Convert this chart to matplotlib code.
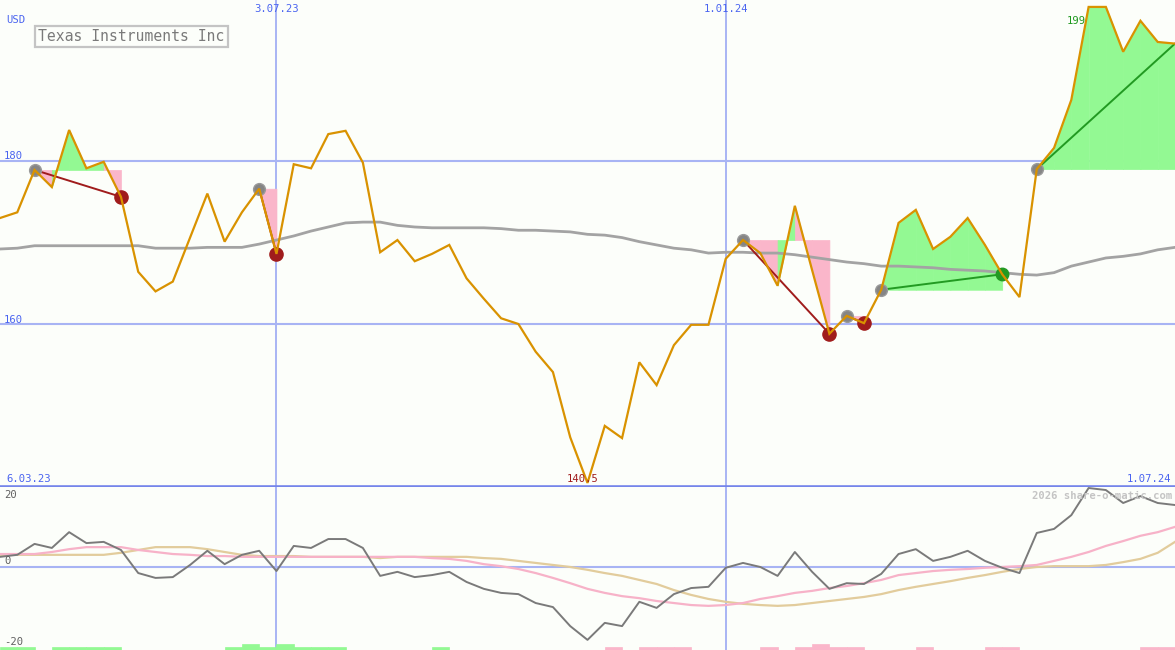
import matplotlib
matplotlib.use('Agg')
import matplotlib.pyplot as plt
import pandas as pd
import datetime as dt

# ---------------- data ----------------
dates = pd.date_range('2023-03-13', periods=69, freq='7D')

price = [173.0, 173.7, 178.9, 176.8, 183.8, 179.1, 179.9, 175.6, 166.4, 164.0,
         165.2, 170.6, 176.0, 170.1, 173.7, 176.6, 168.6, 179.6, 179.1, 183.3,
         183.7, 179.8, 168.8, 170.3, 167.7, 168.6, 169.7, 165.6, 163.1, 160.7,
         160.0, 156.6, 154.1, 146.1, 140.5, 147.5, 146.0, 155.3, 152.5, 157.4,
         159.9, 159.9, 168.0, 170.3, 168.7, 164.7, 174.5, 166.6, 158.8, 161.0,
         160.1, 164.2, 172.4, 174.0, 169.2, 170.7, 173.0, 169.7, 166.1, 163.3,
         179.0, 181.6, 187.5, 198.9, 198.9, 193.4, 197.2, 194.6, 194.4]

ma_long = [169.2, 169.3, 169.6, 169.6, 169.6, 169.6, 169.6, 169.6, 169.6, 169.3,
           169.3, 169.3, 169.4, 169.4, 169.4, 169.8, 170.3, 170.8, 171.4, 171.9,
           172.4, 172.5, 172.5, 172.1, 171.9, 171.8, 171.8, 171.8, 171.8, 171.7,
           171.5, 171.5, 171.4, 171.3, 171.0, 170.9, 170.6, 170.1, 169.7, 169.3,
           169.1, 168.7, 168.8, 168.8, 168.7, 168.7, 168.5, 168.2, 167.9, 167.6,
           167.4, 167.1, 167.1, 167.0, 166.9, 166.7, 166.6, 166.5, 166.3, 166.1,
           166.0, 166.3, 167.1, 167.6, 168.1, 168.3, 168.6, 169.1, 169.4]

osc = [2.5, 3.0, 5.7, 4.7, 8.6, 5.9, 6.2, 4.2, -1.5, -2.7,
       -2.5, 0.5, 4.0, 0.7, 3.0, 4.0, -1.0, 5.2, 4.7, 6.9,
       6.9, 4.7, -2.2, -1.2, -2.5, -2.0, -1.2, -3.7, -5.4, -6.4,
       -6.7, -8.9, -9.9, -14.6, -18.0, -13.8, -14.6, -8.6, -10.1, -6.7,
       -5.2, -4.9, -0.2, 1.0, 0.0, -2.2, 3.7, -1.2, -5.4, -4.0,
       -4.2, -1.7, 3.2, 4.4, 1.5, 2.5, 4.0, 1.5, -0.2, -1.5,
       8.4, 9.4, 12.8, 19.5, 19.0, 15.8, 17.5, 15.8, 15.3]

osc_fast = [3.2, 3.2, 3.2, 3.7, 4.4, 4.9, 4.9, 4.9, 4.2, 3.7,
            3.2, 3.0, 2.7, 2.7, 2.5, 2.5, 2.5, 2.5, 2.5, 2.5,
            2.5, 2.5, 2.5, 2.5, 2.5, 2.2, 2.0, 1.5, 0.7, 0.2,
            -0.5, -1.5, -2.7, -4.0, -5.4, -6.4, -7.2, -7.7, -8.4, -8.9,
            -9.4, -9.6, -9.4, -8.9, -7.9, -7.2, -6.4, -5.9, -5.2, -4.7,
            -4.0, -3.2, -2.0, -1.5, -1.0, -0.7, -0.5, -0.2, 0.0, 0.2,
            0.5, 1.5, 2.5, 3.7, 5.2, 6.4, 7.7, 8.6, 9.9]

osc_slow = [3.0, 3.0, 3.0, 3.0, 3.0, 3.0, 3.0, 3.5, 4.2, 4.9,
            4.9, 4.9, 4.4, 3.7, 3.0, 2.7, 2.7, 2.7, 2.5, 2.5,
            2.5, 2.5, 2.2, 2.5, 2.5, 2.5, 2.5, 2.5, 2.2, 2.0,
            1.5, 1.0, 0.5, 0.0, -0.7, -1.5, -2.2, -3.2, -4.2, -5.7,
            -6.9, -7.9, -8.6, -9.1, -9.4, -9.6, -9.4, -8.9, -8.4, -7.9,
            -7.4, -6.7, -5.7, -4.9, -4.2, -3.5, -2.7, -2.0, -1.2, -0.5,
            0.0, 0.2, 0.2, 0.2, 0.5, 1.2, 2.0, 3.5, 6.2]

# weekly signal bars: +green / -pink, magnitude = strength
signal = [1, 1, 0, 1, 1, 1, 1, 0, 0, 0,
          0, 0, 0, 1, 2, 1, 2, 1, 1, 1,
          0, 0, 0, 0, 0, 1, 0, 0, 0, 0,
          0, 0, 0, 0, 0, -1, 0, -1, -1, -1,
          0, 0, 0, 0, -1, 0, -1, -2, -1, -1,
          0, 0, 0, -1, 0, 0, 0, -1, -1, 0,
          0, 0, 0, 0, 0, 0, -1, -1, 0]

# trades: entry week index, exit week index, outcome
trade_entry = [2, 15, 43, 49, 51, 60]
trade_exit = [7, 16, 48, 50, 58, 68]
trade_result = ['loss', 'loss', 'loss', 'loss', 'win', 'open']

low_label = '140.5'
high_label = '199'
title = 'Texas Instruments Inc'
vlines = [dt.datetime(2023, 7, 3), dt.datetime(2024, 1, 1)]
vline_labels = ['3.07.23', '1.01.24']
start_label, end_label = '6.03.23', '1.07.24'

# ---------------- style ----------------
BG = '#fcfefa'
ORANGE = '#d99200'
GREY_MA = '#a3a3a3'
GRID = '#a8b4f4'
SEP = '#7585ea'
LBL = '#4a64f0'
GREEN_FILL = '#93f993'
PINK_FILL = '#fab6ca'
DARKRED = '#a01c1c'
GREEN_LINE = '#229a22'
MONO = 'DejaVu Sans Mono'

W, H = 1175, 650
fig = plt.figure(figsize=(W / 100, H / 100), dpi=100, facecolor=BG)
ax = fig.add_axes([0, 163 / H, 1, 487 / H])
ax2 = fig.add_axes([0, 0, 1, 163 / H])
for a in (ax, ax2):
    a.set_facecolor(BG)
    for s in a.spines.values():
        s.set_visible(False)
    a.set_xticks([])
    a.set_yticks([])
    a.set_xlim(dt.datetime(2023, 3, 13), dt.datetime(2024, 7, 1))
ax.set_ylim(140.0, 199.75)
ax2.set_ylim(-20.5, 19.75)

# grid lines
for v in vlines:
    ax.axvline(v, color=GRID, lw=1.4, zorder=0.5)
    ax2.axvline(v, color=GRID, lw=1.4, zorder=0.5)
for h in (180, 160):
    ax.axhline(h, color=GRID, lw=1.5, zorder=0.5)
ax2.axhline(0, color=GRID, lw=1.5, zorder=0.5)

# trade fills, lines, dots
for e, x, r in zip(trade_entry, trade_exit, trade_result):
    L = price[e]
    for j in range(e, x):
        col = GREEN_FILL if price[j + 1] >= L else PINK_FILL
        ax.fill_between(dates[j:j + 2], price[j:j + 2], L, facecolor=col,
                        edgecolor=col, lw=0.5, zorder=1)
    lc = DARKRED if r == 'loss' else GREEN_LINE
    ax.plot([dates[e], dates[x]], [price[e], price[x]], color=lc, lw=1.4,
            zorder=3)
for e in trade_entry:
    ax.plot(dates[e], price[e], 'o', ms=8.5, color='#858585', mec='#9a9a9a',
            zorder=4)
for x, r in zip(trade_exit, trade_result):
    if r == 'loss':
        ax.plot(dates[x], price[x], 'o', ms=9.5, color=DARKRED, zorder=4)
    elif r == 'win':
        ax.plot(dates[x], price[x], 'o', ms=9, color=GREEN_LINE, zorder=4)

ax.plot(dates, ma_long, color=GREY_MA, lw=2, zorder=2)
ax.plot(dates, price, color=ORANGE, lw=1.6, zorder=5, solid_joinstyle='miter')

# separator line
ax.axhline(140.0, color=SEP, lw=2.6, zorder=6, clip_on=False)

# lower panel
bar_w = pd.Timedelta(days=7)
for d, s in zip(dates, signal):
    if s != 0:
        c = GREEN_FILL if s > 0 else PINK_FILL
        ax2.bar(d, abs(s) * 0.75, width=bar_w, bottom=-20.5, align='edge',
                color=c, edgecolor=c, lw=0.5, zorder=1)
ax2.plot(dates, osc_slow, color='#e2cc9c', lw=1.6, zorder=2)
ax2.plot(dates, osc_fast, color='#f7b2c8', lw=1.6, zorder=3)
ax2.plot(dates, osc, color='#7a7a7a', lw=1.4, zorder=4)


# ---------------- text ----------------
def fx(px):
    return px / W


def fy(py):
    return 1 - py / H


fs = 7.6
fig.text(fx(6), fy(20), 'USD', color=LBL, fontsize=fs, family=MONO, va='center')
fig.text(fx(4), fy(156), '180', color=LBL, fontsize=fs, family=MONO, va='center')
fig.text(fx(4), fy(320), '160', color=LBL, fontsize=fs, family=MONO, va='center')
for v, t in zip(vlines, vline_labels):
    ax.annotate(t, xy=(v, 1), xycoords=('data', 'axes fraction'),
                xytext=(0, -9), textcoords='offset pixels', ha='center',
                va='center', color=LBL, fontsize=fs, family=MONO)
fig.text(fx(6), fy(479), start_label, color=LBL, fontsize=fs, family=MONO,
         va='center')
fig.text(fx(1171), fy(479), end_label, color=LBL, fontsize=fs, family=MONO,
         va='center', ha='right')

imin = price.index(min(price))
ax.annotate(low_label, xy=(dates[imin], 140.0), xytext=(-5, 8),
            textcoords='offset pixels', ha='center', va='center',
            color='#a01c1c', fontsize=fs, family=MONO, zorder=7)
imax = price.index(max(price))
ax.annotate(high_label, xy=(dates[imax], max(price)), xytext=(-3, -14),
            textcoords='offset pixels', ha='right', va='center',
            color='#1f9a1f', fontsize=fs, family=MONO, zorder=7)

fig.text(fx(38), fy(36.5), title, color='#7a7a7a', fontsize=10.6, family=MONO,
         va='center', ha='left',
         bbox=dict(boxstyle='square,pad=0.22', fc=BG, ec='#c4c4c4', lw=1.6))

fig.text(fx(4), fy(495), '20', color='#606060', fontsize=fs, family=MONO,
         va='center')
fig.text(fx(4), fy(561), '0', color='#606060', fontsize=fs, family=MONO,
         va='center')
fig.text(fx(4), fy(642), '-20', color='#606060', fontsize=fs, family=MONO,
         va='center')
fig.text(fx(1172), fy(496), '2026 share-o-matic.com', color='#c4c4c4',
         fontsize=fs, family=MONO, fontweight='bold', va='center', ha='right')

fig.savefig('out.png', dpi=100, facecolor=BG)
